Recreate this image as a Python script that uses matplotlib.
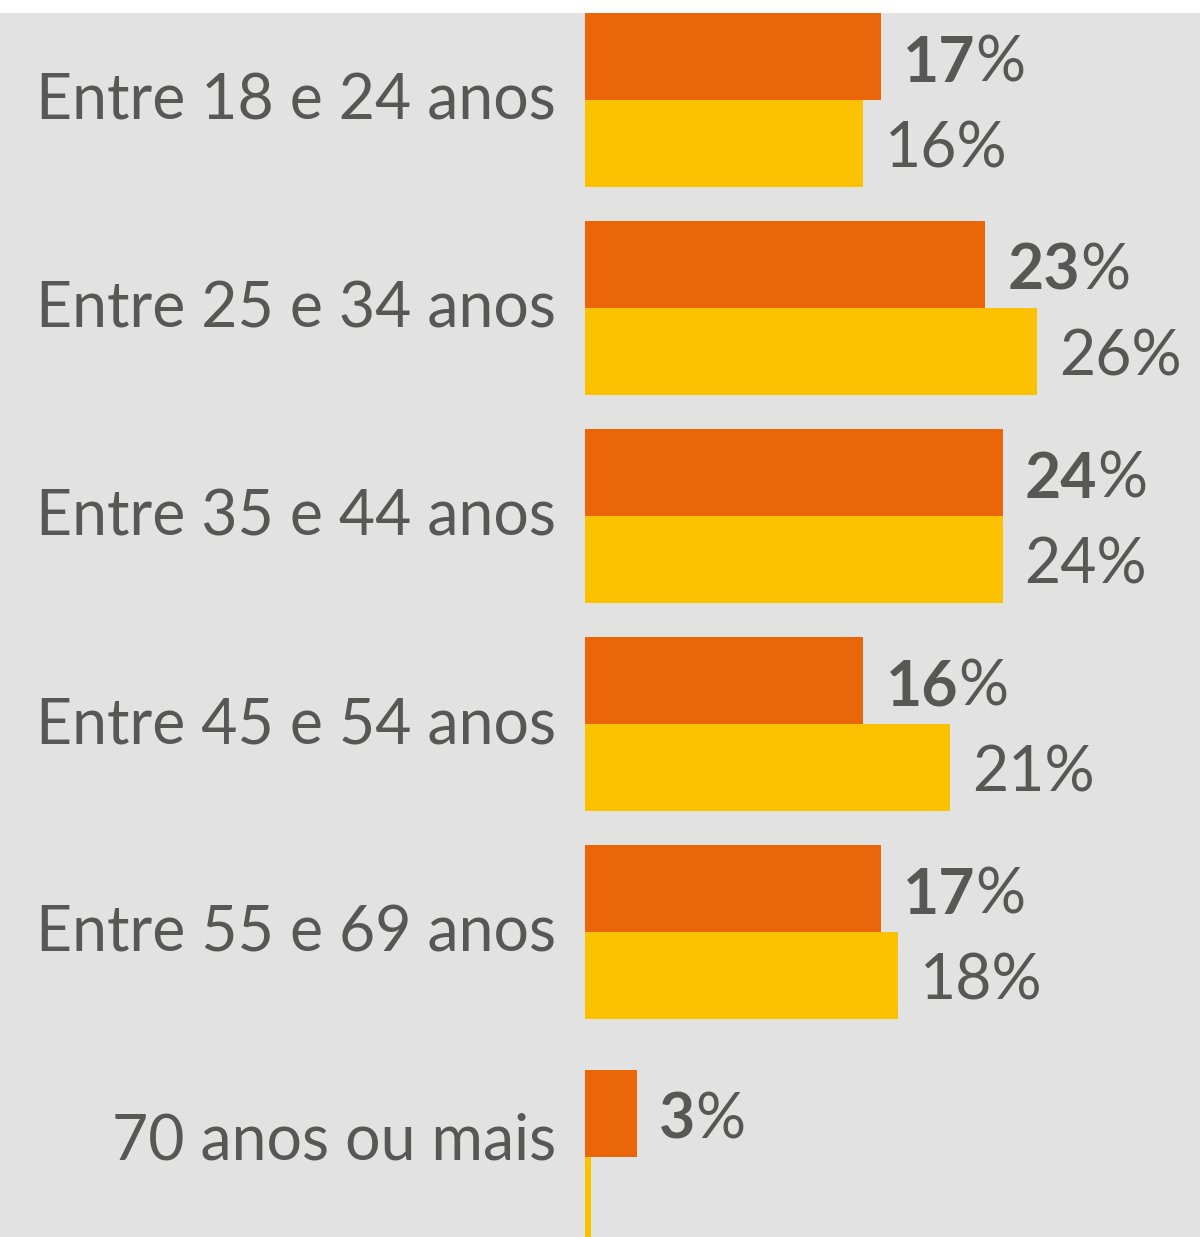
import matplotlib
matplotlib.use('Agg')
import matplotlib.pyplot as plt

categories = ["Entre 18 e 24 anos", "Entre 25 e 34 anos", "Entre 35 e 44 anos",
              "Entre 45 e 54 anos", "Entre 55 e 69 anos", "70 anos ou mais"]
orange_vals = [17, 23, 24, 16, 17, 3]
yellow_vals = [16, 26, 24, 21, 18, 0.35]
yellow_labels = ["16%", "26%", "24%", "21%", "18%", ""]

# layout in pixels (figure is 1200 x 1237)
W, H = 1200, 1237
px_per_pct = 17.4
x0 = 585
group_top = [13, 221, 429, 637, 845, 1070]
label_y = [101, 309, 517, 725, 933, 1141]
bar_h = 87

bg = "#e2e2e2"
orange = "#eb6608"
yellow = "#fcc200"
txt = "#575756"
font = "Lato"

fig = plt.figure(figsize=(W / 100, H / 100), dpi=100)
fig.patch.set_facecolor("white")
ax = fig.add_axes([0, 0, 1, (H - 13) / H])
ax.set_facecolor(bg)
ax.set_xlim(-x0 / px_per_pct, (W - x0) / px_per_pct)
ax.set_ylim(H, 13)
ax.axis("off")
ax.add_patch(plt.Rectangle((-x0 / px_per_pct, 13), W / px_per_pct, H, color=bg, zorder=0))

o_y = [t + bar_h / 2 for t in group_top]
y_y = [t + bar_h * 1.5 for t in group_top]
ax.barh(o_y, orange_vals, height=bar_h, color=orange, left=0, zorder=2)
ax.barh(y_y, yellow_vals, height=bar_h, color=yellow, left=0, zorder=2)

pad = 22 / px_per_pct
fs = 45
vfs = 45
for i, cat in enumerate(categories):
    ax.text(-29 / px_per_pct, label_y[i], cat, ha="right", va="center",
            fontsize=fs, color=txt, family=font)
    t = ax.text(orange_vals[i] + pad, o_y[i] + 7, str(orange_vals[i]), ha="left", va="center",
                fontsize=vfs, color=txt, family=font, fontweight="bold")
    ax.annotate("%", xy=(1, 0), xycoords=t, ha="left", va="bottom",
                fontsize=vfs, color=txt, family=font)
    if yellow_labels[i]:
        ax.text(yellow_vals[i] + pad, y_y[i] + 6, yellow_labels[i], ha="left", va="center",
                fontsize=vfs, color=txt, family=font)

fig.savefig("out.png", dpi=100, facecolor="white")
